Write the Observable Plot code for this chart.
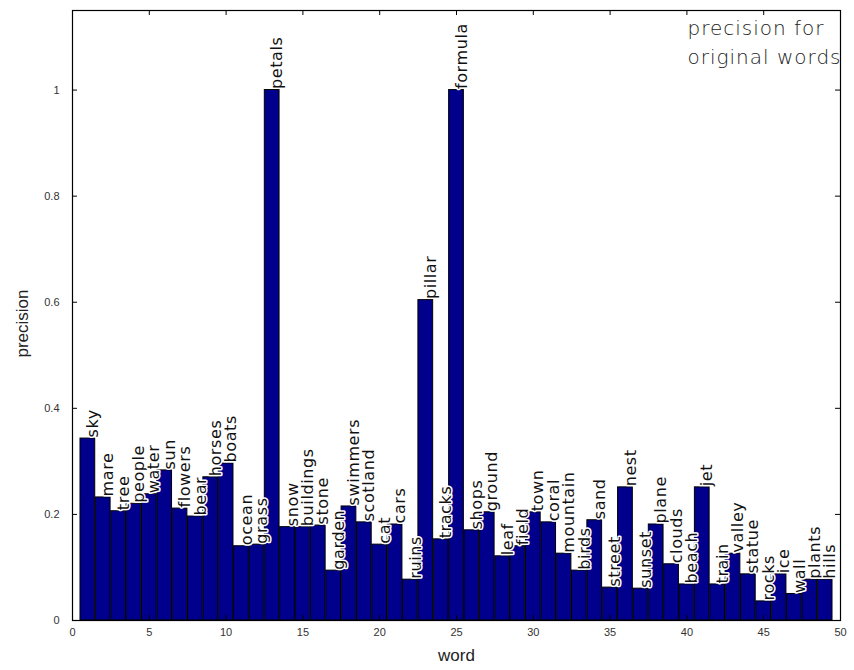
<!DOCTYPE html>
<html>
<head>
<meta charset="utf-8">
<script src="https://cdn.jsdelivr.net/npm/d3@7"></script>
<script src="https://cdn.jsdelivr.net/npm/@observablehq/plot@0.6"></script>
<style>
  html, body { margin: 0; padding: 0; background: #fff; }
  #chart svg { display: block; }
  .wl text { letter-spacing: 0.6px; }
  .ttl text { letter-spacing: 1px; }
</style>
</head>
<body>
<div id="chart"></div>
<script>
const words = ["sky","mare","tree","people","water","sun","flowers","bear","horses","boats",
  "ocean","grass","petals","snow","buildings","stone","garden","swimmers","scotland","cat",
  "cars","ruins","pillar","tracks","formula","shops","ground","leaf","field","town",
  "coral","mountain","birds","sand","street","nest","sunset","plane","clouds","beach",
  "jet","train","valley","statue","rocks","ice","wall","plants","hills"];
const precision = [0.343,0.232,0.206,0.220,0.238,0.283,0.211,0.196,0.270,0.296,
  0.140,0.143,1.000,0.176,0.176,0.179,0.094,0.215,0.185,0.143,
  0.181,0.077,0.604,0.153,1.000,0.170,0.204,0.121,0.140,0.204,
  0.185,0.126,0.094,0.189,0.062,0.251,0.060,0.181,0.106,0.068,
  0.251,0.068,0.126,0.087,0.036,0.087,0.050,0.077,0.077];
const xTicks = [0,5,10,15,20,25,30,35,40,45,50];
const yTicks = [0,0.2,0.4,0.6,0.8,1];
const titleText = "precision for\noriginal words";
const xLabel = "word";
const yLabel = "precision";

const data = words.map((w, i) => ({idx: i + 1, word: w, value: precision[i]}));

const W = 854, H = 670;
const mL = 72, mR = 14, mT = 10, mB = 50;
const plotW = W - mL - mR, plotH = H - mT - mB;
const halfBar = 0.48;

const chart = Plot.plot({
  width: W,
  height: H,
  marginLeft: mL,
  marginRight: mR,
  marginTop: mT,
  marginBottom: mB,
  style: {fontFamily: "Liberation Sans, Arial, sans-serif", background: "#fff"},
  x: {domain: [0, 50]},
  y: {domain: [0, 1.15]},
  marks: [
    Plot.text([titleText], {frameAnchor: "top-right", textAnchor: "start", lineAnchor: "top",
      dx: -153, dy: 4, fontSize: 20, fill: "#222", lineHeight: 1.45,
      fontFamily: "DejaVu Sans", fontWeight: 300, className: "ttl"}),
    Plot.rectY(data, {x1: d => d.idx - halfBar, x2: d => d.idx + halfBar, y1: 0, y2: "value",
      fill: "#00008C", stroke: "#000", strokeWidth: 1}),
    Plot.text(data, {x: "idx", y: "value", text: "word", rotate: -90, textAnchor: "start",
      dx: 5, dy: -1, fontSize: 16, fill: "#111", stroke: "white", strokeWidth: 3,
      fontFamily: "DejaVu Sans", className: "wl"}),
    // inward ticks, bottom/top
    Plot.tickX(xTicks, {x: d => d, insetTop: plotH - 5, stroke: "#000"}),
    Plot.tickX(xTicks, {x: d => d, insetBottom: plotH - 5, stroke: "#000"}),
    // inward ticks, left/right
    Plot.tickY(yTicks, {y: d => d, insetRight: plotW - 5, stroke: "#000"}),
    Plot.tickY(yTicks, {y: d => d, insetLeft: plotW - 5, stroke: "#000"}),
    Plot.axisX(xTicks, {tickSize: 0, tickPadding: 8, fontSize: 11, fill: "#333", label: null,
      tickFormat: d => String(d)}),
    Plot.axisY(yTicks, {tickSize: 0, tickPadding: 13, fontSize: 11, fill: "#333", label: null,
      tickFormat: d => String(d)}),
    Plot.text([xLabel], {frameAnchor: "bottom", dy: 40, fontSize: 17, fill: "#222"}),
    Plot.text([yLabel], {frameAnchor: "left", rotate: -90, dx: -50, dy: 42, fontSize: 17, fill: "#222"}),
    Plot.frame({stroke: "#000", strokeWidth: 1.2})
  ]
});
document.getElementById("chart").appendChild(chart);
</script>
</body>
</html>
